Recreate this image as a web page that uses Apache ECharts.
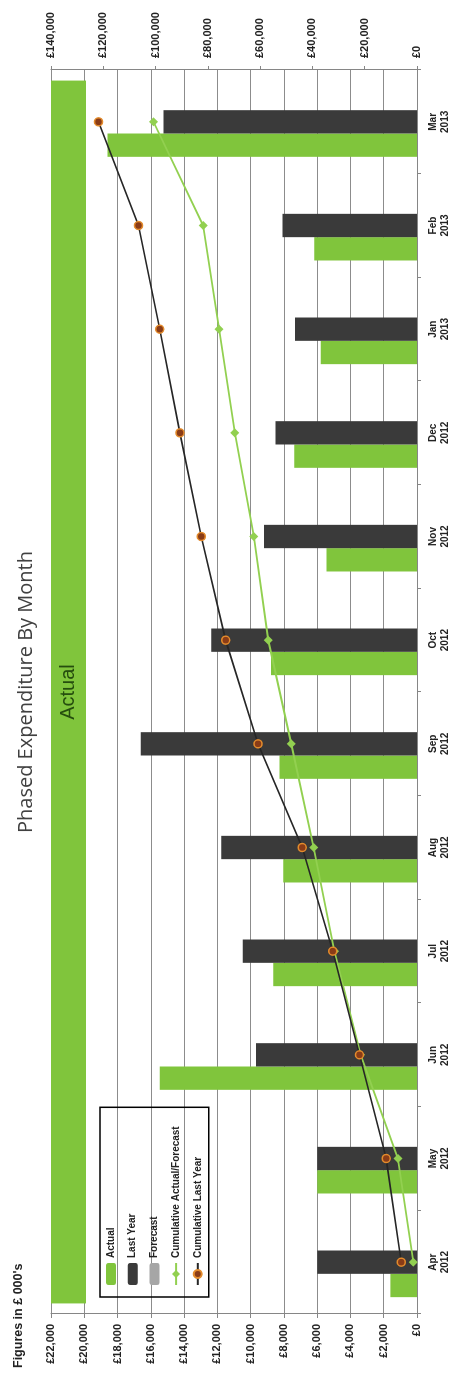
<!DOCTYPE html>
<html><head><meta charset="utf-8">
<script src="https://cdn.jsdelivr.net/npm/echarts@6/dist/echarts.min.js"></script>
<style>
html,body{margin:0;padding:0;width:462px;height:1384px;overflow:hidden;background:#fff;}
#wrap{position:absolute;left:0;top:0;width:1384px;height:462px;transform-origin:0 0;transform:translate(0,1384px) rotate(-90deg);}
#chart{width:1384px;height:462px;}
</style></head><body>
<div id="wrap"><div id="chart"></div></div>
<script>
// ---- data ----
const categories = ['Apr\n2012','May\n2012','Jun\n2012','Jul\n2012','Aug\n2012','Sep\n2012','Oct\n2012','Nov\n2012','Dec\n2012','Jan\n2013','Feb\n2013','Mar\n2013'];
const actual      = [1600, 6000, 15460, 8640, 8040, 8260, 8780, 5440, 7380, 5780, 6180, 18600];
const lastYear    = [6000, 6000, 9680, 10480, 11760, 16600, 12360, 9200, 8500, 7340, 8080, 15240];
const forecast    = [null, null, null, null, null, null, null, null, null, null, null, null];
const cumActual   = [1400, 7300, 21600, 31600, 39500, 48100, 56900, 62400, 69700, 75700, 81800, 100800];
const cumLastYear = [6000, 11800, 22000, 32200, 43900, 60800, 73200, 82500, 90700, 98400, 106500, 121800];
const periodLabels = ['Actual'];
const periodFrom   = [19900];
const periodTo     = [22000];
const leftAxisTicks  = { min: 0, max: 22000, interval: 2000 };
const rightAxisTicks = { min: 0, max: 140000, interval: 20000 };
const legendNames = ['Actual','Last Year','Forecast','Cumulative Actual/Forecast','Cumulative Last Year'];

function money(v){
  const s = String(Math.round(v));
  return '£' + s.replace(/\B(?=(\d{3})+(?!\d))/g, ',');
}

const GREEN = '#80c53c';
const LINEGREEN = '#92d050';
const DARK = '#3a3a3a';
const GREY = '#a6a6a6';
const AXIS = '#868686';
const FONT = '"Liberation Sans", Arial, sans-serif';

const chart = echarts.init(document.getElementById('chart'), null, {renderer:'canvas'});
chart.setOption({
  animation: false,
  backgroundColor: '#fff',
  title: {
    text: 'Phased Expenditure By Month',
    left: 'center', top: 11,
    textStyle: { fontFamily: '"Open Sans", sans-serif', fontSize: 20, fontWeight: 'normal', color: '#404040' }
  },
  graphic: [{
    type: 'text', left: 16, top: 12,
    style: { text: 'Figures in £ 000\'s', font: 'bold 12.5px ' + FONT, fill: '#222' }
  }],
  legend: {
    data: legendNames,
    orient: 'vertical',
    left: 87, top: 100,
    padding: [5, 19, 5, 11],
    itemWidth: 22, itemHeight: 10, itemGap: 9.7,
    borderColor: '#000', borderWidth: 1.5,
    textStyle: { fontFamily: FONT, fontSize: 10, fontWeight: 'bold', color: '#222', lineHeight: 12 }
  },
  grid: { left: 70, right: 70, top: 51, bottom: 45, containLabel: false },
  xAxis: [{
    type: 'category', data: categories, boundaryGap: true,
    axisLine: { lineStyle: { color: AXIS, width: 1 } },
    axisTick: { show: true, length: 4, lineStyle: { color: AXIS } },
    axisLabel: { margin: 10, fontFamily: FONT, fontSize: 10, fontWeight: 'bold', color: '#222', lineHeight: 12 },
    splitLine: { show: false }
  }, {
    type: 'category', data: periodLabels, show: false, boundaryGap: true
  }],
  yAxis: [{
    type: 'value', position: 'left',
    min: leftAxisTicks.min, max: leftAxisTicks.max, interval: leftAxisTicks.interval,
    axisLine: { show: true, lineStyle: { color: AXIS } },
    axisTick: { show: true, length: 4, lineStyle: { color: AXIS } },
    axisLabel: { margin: 10, formatter: money, fontFamily: FONT, fontSize: 11, fontWeight: 'bold', color: '#222' },
    splitLine: { show: true, lineStyle: { color: '#8c8c8c', width: 1 } }
  }, {
    type: 'value', position: 'right',
    min: rightAxisTicks.min, max: rightAxisTicks.max, interval: rightAxisTicks.interval,
    axisLine: { show: true, lineStyle: { color: AXIS } },
    axisTick: { show: true, length: 4, lineStyle: { color: AXIS } },
    axisLabel: { margin: 12, formatter: money, fontFamily: FONT, fontSize: 11, fontWeight: 'bold', color: '#222' },
    splitLine: { show: false }
  }],
  series: [
    {
      name: 'periodBase', type: 'bar', xAxisIndex: 1, yAxisIndex: 0, stack: 'period',
      data: periodFrom, barCategoryGap: '1.7%', itemStyle: { color: 'rgba(0,0,0,0)' }, silent: true
    },
    {
      name: 'periodBand', type: 'bar', xAxisIndex: 1, yAxisIndex: 0, stack: 'period',
      data: periodTo.map((v, i) => v - periodFrom[i]), barCategoryGap: '1.7%',
      itemStyle: { color: GREEN },
      label: { show: true, position: 'inside', formatter: () => periodLabels[0],
               fontFamily: FONT, fontSize: 20, color: '#254d0e' }
    },
    { name: 'Actual', type: 'bar', data: actual, barGap: '0%', barCategoryGap: '32.5%', itemStyle: { color: GREEN } },
    { name: 'Last Year', type: 'bar', data: lastYear, barGap: '0%', barCategoryGap: '32.5%', itemStyle: { color: DARK } },
    { name: 'Forecast', type: 'bar', data: forecast, barGap: '0%', barCategoryGap: '32.5%', itemStyle: { color: GREY } },
    {
      name: 'Cumulative Actual/Forecast', type: 'line', yAxisIndex: 1, data: cumActual,
      symbol: 'diamond', symbolSize: 9, showAllSymbol: true,
      lineStyle: { color: LINEGREEN, width: 1.8 },
      itemStyle: { color: LINEGREEN }, z: 5
    },
    {
      name: 'Cumulative Last Year', type: 'line', yAxisIndex: 1, data: cumLastYear,
      symbol: 'circle', symbolSize: 8, showAllSymbol: true,
      lineStyle: { color: '#262626', width: 1.6 },
      itemStyle: { color: '#8a3c17', borderColor: '#e38b2c', borderWidth: 1.5 }, z: 6
    }
  ]
});
</script></body></html>
